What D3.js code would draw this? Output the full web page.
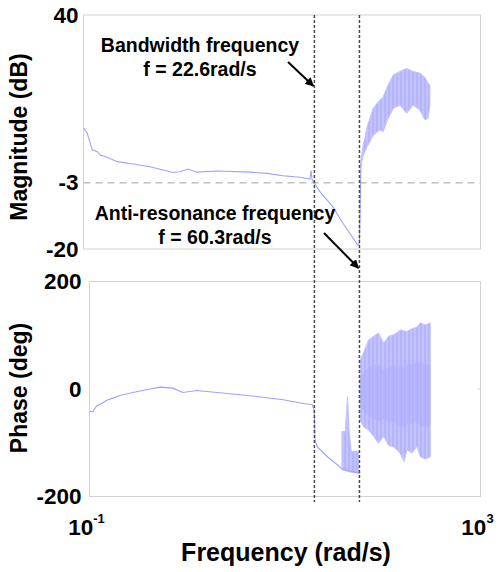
<!DOCTYPE html>
<html>
<head>
<meta charset="utf-8">
<script src="https://cdn.jsdelivr.net/npm/d3@7"></script>
<style>
  body { margin: 0; background: #fff; }
  text { font-family: "Liberation Sans", Arial, sans-serif; font-weight: bold; fill: #000; }
</style>
</head>
<body>
<div id="chart"></div>
<script>
// magnitude trace (rad/s, dB)
const magFreq = [0.1, 0.109, 0.1224, 0.1374, 0.1472, 0.1732, 0.2183, 0.316, 0.469, 0.8, 0.94, 1.13, 1.39, 2.22, 4.76, 7.06, 10.2, 15.2, 19.1, 19.6, 20.1, 21.0, 24.1, 32.6, 41.1, 58.2, 60.3, 62.5];
const magDb = [11.1, 9.7, 5.4, 5.0, 4.1, 3.5, 2.4, 1.8, 1.1, -0.4, -0.2, 0.5, -0.3, 0, -0.3, -0.6, -1.2, -1.6, -2.05, 0.1, -2.2, -3.0, -5.3, -9.2, -13.4, -19, -18.5, 2];
// noisy high-frequency magnitude envelope
const magBandFreq = [62.5, 65.8, 68.5, 71.2, 76.9, 83.0, 97.0, 104.7, 113.2, 132, 154, 180, 210, 245, 275, 297, 309];
const magBandHi = [3, 6.7, 8.5, 10.9, 13.5, 16.1, 18.2, 19, 21.2, 24.6, 25.5, 26.3, 25.5, 25.1, 24, 22.5, 22];
const magBandLo = [1.5, 4, 5.0, 6, 7.5, 9.2, 10.5, 10.1, 12.6, 16.1, 16.9, 14.8, 16.9, 15.6, 13.1, 13.5, 16.9];

// phase trace (rad/s, deg)
const phaseFreq = [0.1, 0.108, 0.1188, 0.1275, 0.1504, 0.1733, 0.2043, 0.278, 0.415, 0.525, 0.713, 0.904, 1.256, 2.01, 4.39, 9.57, 14.3, 19.0, 19.9, 20.3, 21.3, 27.0, 34.2, 38.5, 46.5, 56.1, 58.8];
const phaseDeg = [-42, -42, -31, -29, -21, -17, -12, -6.5, 0, 3.5, 1.6, -6.5, -2.8, -6.5, -12.7, -20, -26, -29.4, -38.7, -94.5, -107, -125.6, -141, -149, -153, -156, -156];
const phaseSpikeFreq = [38.2, 41.3, 43.6, 45.4, 47.6, 56.1];
const phaseSpikeHi = [-79, -79, -14, -79, -116, -116];
const phaseSpikeLo = [-150, -152, -153, -154, -155, -156];
const phaseBandFreq = [58.8, 63.5, 71.6, 80.5, 90.6, 102, 115, 129, 140, 151, 165, 177, 199, 224, 242, 272, 306];
const phaseBandHi = [54, 67, 91, 98, 104, 85, 98, 101, 105, 110, 108, 107, 112, 115, 123, 119, 123];
const phaseBandLo = [-57, -70, -76, -88, -101, -88, -105, -108, -113, -120, -135, -113, -119, -107, -126, -130, -126];
const phaseCoreHi = [20, 30, 40, 45, 45, 35, 40, 45, 40, 45, 40, 45, 45, 50, 50, 45, 45];
const phaseCoreLo = [-30, -40, -50, -55, -60, -55, -60, -60, -65, -70, -70, -65, -65, -60, -70, -70, -65];

const markerFreq = [21.2, 60.3];
const magTicks = [-20, -3, 40];
const phaseTicks = [-200, 0, 200];
const freqTicks = [{ base: "10", exp: "-1", f: 0.1 }, { base: "10", exp: "3", f: 1000 }];

const theme = { line: "#a0a0ff", band: "#c2c2ff", core: "#acacfb", frame: "#d2d2d2", ref: "#c0c0c0" };

const width = 499, height = 572;
const svg = d3.select("#chart").append("svg").attr("width", width).attr("height", height);

const magBox = { left: 83.5, right: 480.5, top: 15, bottom: 249 };
const phaseBox = { left: 89.5, right: 480.5, top: 281.5, bottom: 496.5 };

const xMag = d3.scaleLog().domain([0.1, 1000]).range([magBox.left, magBox.right]);
const yMag = d3.scaleLinear().domain([-20, 40]).range([magBox.bottom, magBox.top]);
const xPhase = d3.scaleLog().domain([0.1, 1000]).range([phaseBox.left, phaseBox.right]);
const yPhase = d3.scaleLinear().domain([-200, 200]).range([phaseBox.bottom, phaseBox.top]);

// vertical streak texture for the noisy parts
const defs = svg.append("defs");
const pat = defs.append("pattern").attr("id", "streaks").attr("patternUnits", "userSpaceOnUse")
  .attr("width", 4).attr("height", 40);
pat.append("rect").attr("width", 4).attr("height", 40).attr("fill", theme.band);
pat.append("line").attr("x1", 1).attr("x2", 1).attr("y1", 0).attr("y2", 40)
  .attr("stroke", "#a8a8fc").attr("stroke-width", 1);
defs.append("marker").attr("id", "arrow").attr("viewBox", "0 0 10 10")
  .attr("refX", 9).attr("refY", 5).attr("markerWidth", 4.5).attr("markerHeight", 4.5)
  .attr("orient", "auto").append("path").attr("d", "M0,0L10,5L0,10z").attr("fill", "#000");

const drawFrame = (box) => {
  svg.append("rect")
    .attr("x", box.left).attr("y", box.top)
    .attr("width", box.right - box.left).attr("height", box.bottom - box.top)
    .attr("fill", "none").attr("stroke", theme.frame).attr("stroke-width", 1);
};
drawFrame(magBox);
drawFrame(phaseBox);

// -3 dB reference
svg.append("line")
  .attr("x1", magBox.left).attr("x2", magBox.right)
  .attr("y1", yMag(-3)).attr("y2", yMag(-3))
  .attr("stroke", theme.ref).attr("stroke-width", 1.5).attr("stroke-dasharray", "7,5");

const band = (x, y, f, hi, lo) => d3.area()
  .x((d, i) => x(f[i])).y0((d, i) => y(lo[i])).y1((d, i) => y(hi[i]))(f);
const line = (x, y, f, v) => d3.line().x((d, i) => x(f[i])).y((d, i) => y(v[i]))(f);

// magnitude
svg.append("path").attr("d", band(xMag, yMag, magBandFreq, magBandHi, magBandLo))
  .attr("fill", "url(#streaks)").attr("stroke", theme.band).attr("stroke-width", 1);
svg.append("path").attr("d", line(xMag, yMag, magFreq, magDb))
  .attr("fill", "none").attr("stroke", theme.line).attr("stroke-width", 1.1);

// phase
svg.append("path").attr("d", band(xPhase, yPhase, phaseBandFreq, phaseBandHi, phaseBandLo))
  .attr("fill", "url(#streaks)").attr("stroke", theme.band).attr("stroke-width", 1);
svg.append("path").attr("d", band(xPhase, yPhase, phaseBandFreq, phaseCoreHi, phaseCoreLo))
  .attr("fill", theme.core).attr("opacity", 0.5);
svg.append("path").attr("d", band(xPhase, yPhase, phaseSpikeFreq, phaseSpikeHi, phaseSpikeLo))
  .attr("fill", "url(#streaks)").attr("stroke", theme.band).attr("stroke-width", 1);
svg.append("path").attr("d", line(xPhase, yPhase, phaseFreq, phaseDeg))
  .attr("fill", "none").attr("stroke", theme.line).attr("stroke-width", 1.1);

// small inside tick on the right edge at 0 deg
svg.append("g").selectAll("line").data(phaseTicks.slice(1, 2)).join("line")
  .attr("x1", phaseBox.right - 3).attr("x2", phaseBox.right)
  .attr("y1", (d) => yPhase(d)).attr("y2", (d) => yPhase(d))
  .attr("stroke", theme.frame);

// y axes (plain hyphen minus, like the original)
const styleAxis = (g) => {
  g.select(".domain").remove();
  g.selectAll("text").attr("font-size", 22.5).style("font-weight", "bold")
    .attr("font-family", '"Liberation Sans", Arial, sans-serif');
};
svg.append("g").attr("transform", `translate(${magBox.left},0)`)
  .call(d3.axisLeft(yMag).tickValues(magTicks).tickFormat((d) => String(d)).tickSize(0).tickPadding(5))
  .call(styleAxis);
svg.append("g").attr("transform", `translate(${phaseBox.left},0)`)
  .call(d3.axisLeft(yPhase).tickValues(phaseTicks).tickFormat((d) => String(d)).tickSize(0).tickPadding(8))
  .call(styleAxis);

// x tick labels (powers of ten)
const xt = svg.append("g").selectAll("text").data(freqTicks).join("text")
  .attr("x", (d) => xPhase(d.f) - 3).attr("y", 535)
  .attr("text-anchor", "middle").attr("font-size", 22.5);
xt.append("tspan").text((d) => d.base);
xt.append("tspan").attr("dy", -12).attr("font-size", 13).text((d) => d.exp);

// axis titles
svg.append("text").attr("transform", `translate(27,137) rotate(-90)`)
  .attr("text-anchor", "middle").attr("font-size", 23).text("Magnitude (dB)");
svg.append("text").attr("transform", `translate(27,388) rotate(-90)`)
  .attr("text-anchor", "middle").attr("font-size", 23).text("Phase (deg)");
svg.append("text").attr("x", 286).attr("y", 561)
  .attr("text-anchor", "middle").attr("font-size", 25).text("Frequency (rad/s)");

// frequency markers
svg.append("g").selectAll("line").data(markerFreq).join("line")
  .attr("x1", (d) => xMag(d)).attr("x2", (d) => xMag(d))
  .attr("y1", 15).attr("y2", 502)
  .attr("stroke", "#4a4a4a").attr("stroke-width", 1.5).attr("stroke-dasharray", "3,2");

// annotations
const note = (cx, y, lines) => {
  svg.append("text").attr("x", cx).attr("y", y).attr("text-anchor", "middle").attr("font-size", 19.5)
    .selectAll("tspan").data(lines).join("tspan")
    .attr("x", cx).attr("dy", (d, i) => (i ? 23.5 : 0)).text((d) => d);
};
note(200, 52, ["Bandwidth frequency", "f = 22.6rad/s"]);
note(215, 220, ["Anti-resonance frequency", "f = 60.3rad/s"]);

svg.append("line").attr("x1", 288).attr("y1", 62).attr("x2", xMag(markerFreq[0]) - 1).attr("y2", 86)
  .attr("stroke", "#000").attr("stroke-width", 2).attr("marker-end", "url(#arrow)");
svg.append("line").attr("x1", 324).attr("y1", 233).attr("x2", xMag(markerFreq[1]) - 1).attr("y2", 268)
  .attr("stroke", "#000").attr("stroke-width", 2).attr("marker-end", "url(#arrow)");
</script>
</body>
</html>
